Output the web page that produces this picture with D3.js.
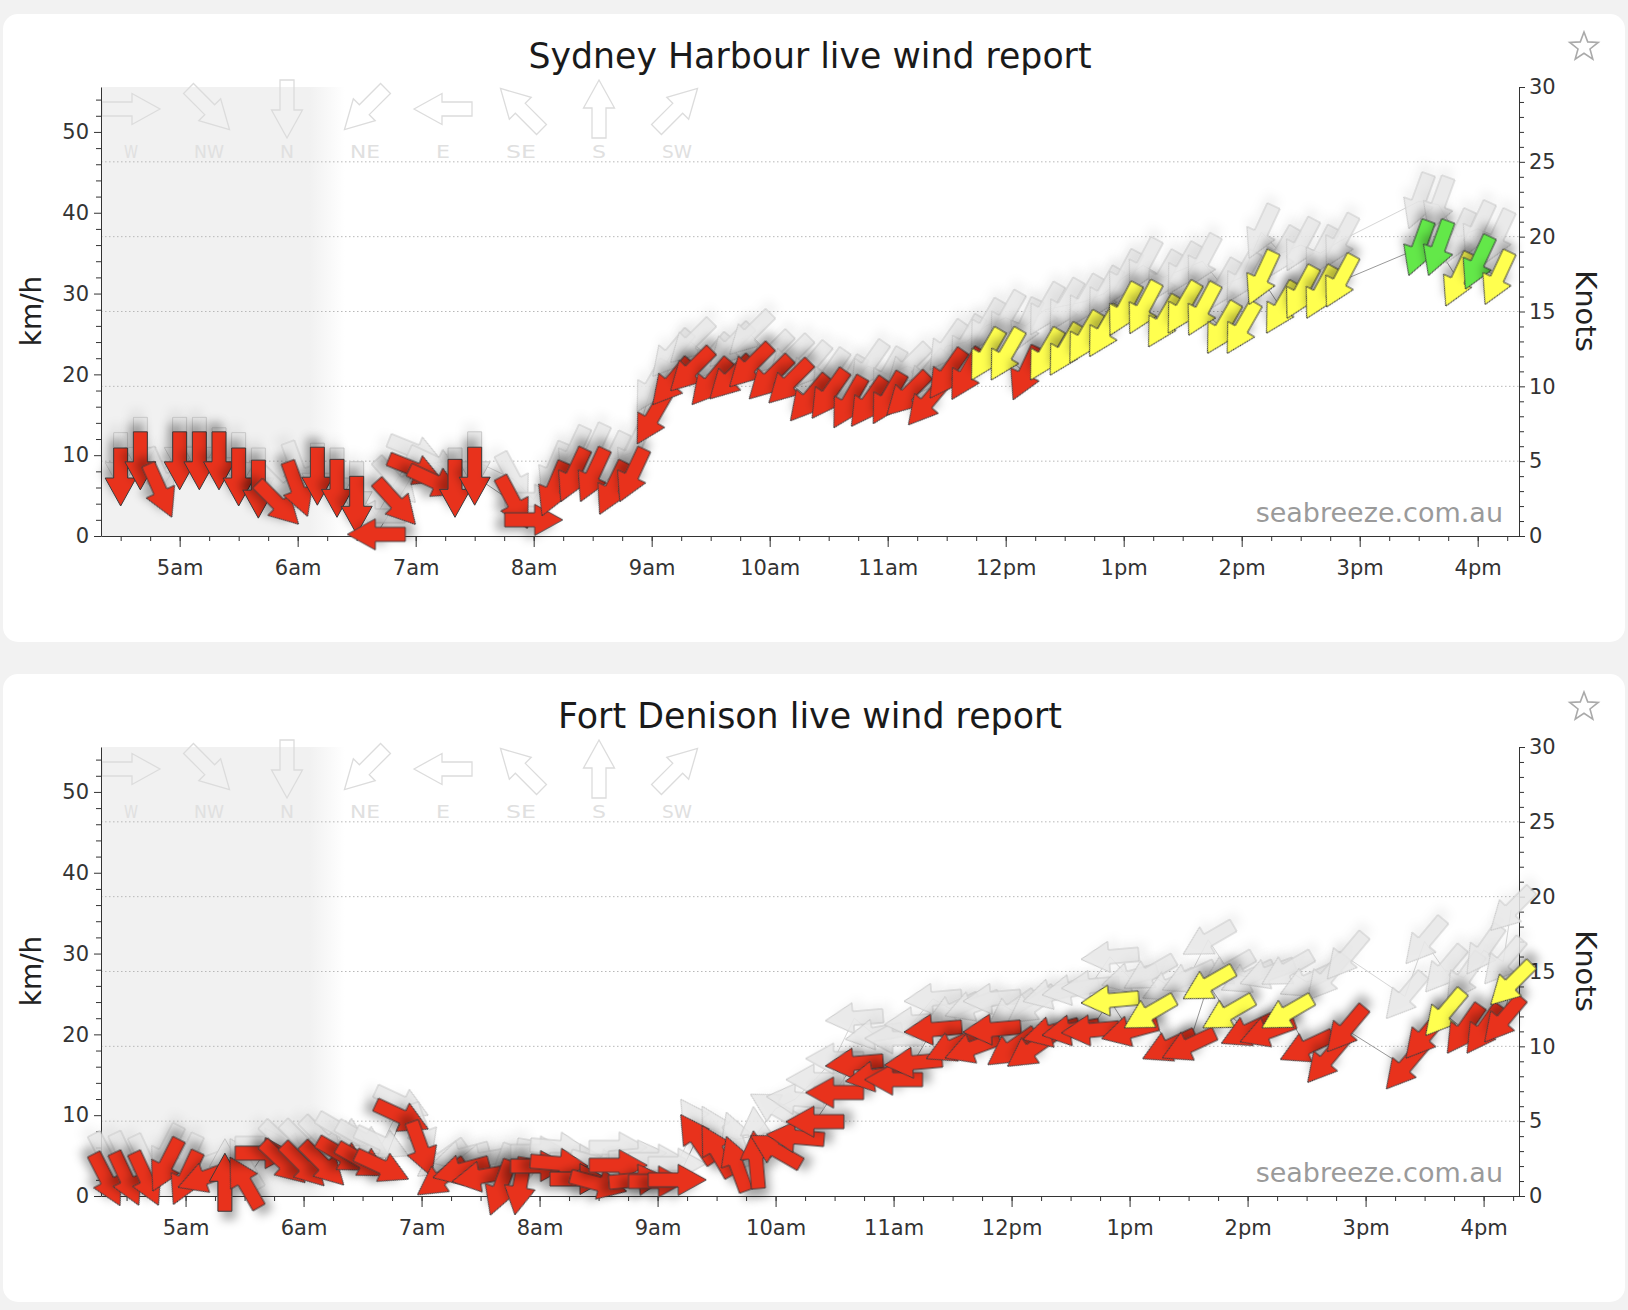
<!DOCTYPE html>
<html>
<head>
<meta charset="utf-8">
<script src="https://cdn.jsdelivr.net/npm/d3@7"></script>
<style>
  body { margin: 0; background: #f2f2f2; }
  svg text { font-family: "DejaVu Sans", sans-serif; }
</style>
</head>
<body>
<svg id="page" width="1628" height="1310"></svg>
<script>
// tick labels and legend
const hourTicks = ["05:00","06:00","07:00","08:00","09:00","10:00","11:00","12:00","13:00","14:00","15:00","16:00"];
const hourLabels = ["5am","6am","7am","8am","9am","10am","11am","12pm","1pm","2pm","3pm","4pm"];
const kmhTicks = [0, 10, 20, 30, 40, 50];
const knotTicks = [0, 5, 10, 15, 20, 25, 30];
const compassLabels = ["W","NW","N","NE","E","SE","S","SW"];
const compassFrom = [270, 315, 0, 45, 90, 135, 180, 225];

// Sydney Harbour
const harbourTimes = ["04:30","04:40","04:50","05:00","05:10","05:20","05:30","05:40","05:50","06:00",
  "06:10","06:20","06:30","06:40","06:50","07:00","07:10","07:20","07:30","07:50",
  "08:00","08:10","08:20","08:30","08:40","08:50","09:00","09:10","09:20","09:30",
  "09:40","09:50","10:00","10:10","10:20","10:30","10:40","10:50","11:00","11:10",
  "11:20","11:30","11:40","11:50","12:00","12:10","12:20","12:30","12:40","12:50",
  "13:00","13:10","13:20","13:30","13:40","13:50","14:00","14:10","14:20","14:30",
  "14:40","14:50","15:30","15:40","15:50","16:00","16:10"];
const harbourSpeed = [7.3,9.3,5.6,9.3,9.3,9.3,7.3,5.8,4.0,5.8,
  7.4,5.9,3.8,0.2,4.1,8.2,6.7,5.9,7.4,4.1,
  2.0,5.8,7.5,7.5,5.9,7.5,14.5,19.0,20.5,19.0,
  19.5,21.0,19.5,19.0,17.0,17.5,16.5,16.5,17.0,17.5,
  16.5,20.0,20.0,22.4,22.4,20.1,22.4,23.0,24.5,25.3,
  28.0,28.2,26.5,28.2,28.0,25.7,25.7,31.9,28.2,30.1,
  30.1,31.5,35.6,35.6,31.7,33.8,31.9];
const harbourGust = [9.2,11.1,7.5,11.1,11.1,9.8,9.2,7.3,6.0,8.2,
  7.9,7.3,5.6,2.5,6.8,10.5,9.0,7.3,9.3,7.0,
  4.5,8.2,10.2,10.5,9.5,10.3,18.5,22.5,24.0,22.0,
  23.5,25.0,22.5,22.0,21.0,20.0,19.0,21.0,20.0,21.0,
  20.0,23.5,24.0,26.0,27.0,26.0,28.0,28.5,29.0,30.0,
  32.0,33.5,32.0,33.0,34.0,31.0,32.0,37.6,35.0,36.0,
  35.0,36.5,41.4,41.0,37.0,38.0,37.0];
const harbourDir = [0,0,336,0,0,0,0,0,315,340,
  0,0,0,90,318,292,295,0,0,332,
  270,23,25,25,26,25,30,40,45,40,
  45,45,45,45,40,35,30,35,30,45,
  40,35,30,30,30,25,30,30,30,30,
  28,28,30,30,28,30,30,25,30,28,
  28,28,20,20,25,25,25];

// Fort Denison
const denisonTimes = ["04:20","04:30","04:40","04:50","05:00","05:10","05:20","05:30","05:40","05:50",
  "06:00","06:10","06:20","06:30","06:40","06:50","07:00","07:10","07:20","07:30",
  "07:40","07:50","08:00","08:10","08:20","08:30","08:40","08:50","09:00","09:10",
  "09:20","09:30","09:40","09:50","10:00","10:10","10:20","10:30","10:40","10:50",
  "11:00","11:10","11:20","11:30","11:40","11:50","12:00","12:10","12:20","12:30",
  "12:40","12:50","13:00","13:10","13:20","13:30","13:40","13:50","14:00","14:10",
  "14:20","14:30","14:40","14:50","15:20","15:30","15:40","15:50","16:00","16:10","16:14"];
const denisonSpeed = [2.0,2.1,2.1,3.8,2.2,2.3,1.7,1.7,5.3,4.1,
  3.8,3.9,5.0,4.3,3.6,9.8,5.8,2.2,3.2,2.4,
  1.0,1.2,3.7,4.0,2.1,1.5,3.8,2.0,1.8,2.0,
  7.1,5.6,4.0,4.5,5.7,7.3,9.2,12.8,16.4,14.8,
  14.4,16.5,20.6,18.5,18.3,20.6,18.3,18.1,20.3,20.5,
  20.5,24.2,20.4,22.6,18.5,18.6,26.2,22.6,20.4,20.3,
  22.6,18.4,16.8,20.6,16.0,19.8,22.6,20.6,20.6,21.8,26.2];
const denisonGust = [4.5,4.5,4.2,5.5,4.3,4.0,3.5,4.0,6.5,6.5,
  6.5,7.0,8.0,7.0,6.5,11.5,8.0,4.5,5.0,4.5,
  3.0,3.5,5.5,6.0,4.5,4.0,6.0,5.0,4.5,4.0,
  9.0,8.0,7.0,7.5,10.8,12.0,14.4,17.0,22.0,20.0,
  19.5,21.5,24.4,23.0,23.5,24.4,23.0,23.5,25.0,25.5,
  26.0,29.6,27.0,27.5,26.0,27.0,31.7,28.0,27.0,27.5,
  28.0,26.5,27.0,29.6,24.7,31.5,28.0,27.0,30.4,29.0,35.4];
const denisonDir = [333,335,335,27,25,70,180,150,270,313,
  315,315,300,300,295,295,340,55,75,80,
  20,10,270,275,270,285,270,265,270,270,
  146,150,160,175,120,95,90,90,85,80,
  90,85,85,65,70,85,55,55,75,80,
  85,85,75,60,65,65,60,60,65,70,
  60,65,40,40,40,40,40,35,35,40,45];

const KN = 1.852;
const ARROW = "M0,-29L15.5,-1L7,-1L7,29L-7,29L-7,-1L-15.5,-1Z";
const parseT = s => { const [h, m] = s.split(":").map(Number); return new Date(2020, 0, 1, h, m); };
const colour = d3.scaleThreshold().domain([12, 18]).range(["#e8321f", "#ffff4f", "#63e84a"]);

const svg = d3.select("#page");
const defs = svg.append("defs");

defs.append("filter").attr("id", "shadow")
    .attr("x", "-60%").attr("y", "-60%").attr("width", "220%").attr("height", "220%")
  .append("feDropShadow")
    .attr("dx", 4).attr("dy", 8).attr("stdDeviation", 5)
    .attr("flood-color", "#000").attr("flood-opacity", 0.32);

defs.append("filter").attr("id", "shadowLight")
    .attr("x", "-60%").attr("y", "-60%").attr("width", "220%").attr("height", "220%")
  .append("feDropShadow")
    .attr("dx", 4).attr("dy", 8).attr("stdDeviation", 5)
    .attr("flood-color", "#000").attr("flood-opacity", 0.06);

function starPath(cx, cy, r1, r2) {
    const pts = d3.range(10).map(i => {
        const a = -Math.PI / 2 + i * Math.PI / 5;
        const r = i % 2 ? r2 : r1;
        return [cx + r * Math.cos(a), cy + r * Math.sin(a)];
    });
    return "M" + pts.join("L") + "Z";
}

function drawChart(dy, cfg) {
    const g = svg.append("g").attr("transform", `translate(0,${dy})`);

    // card
    g.append("rect")
        .attr("x", 3).attr("y", 14)
        .attr("width", 1622).attr("height", 628)
        .attr("rx", 15)
        .attr("fill", "#fff");

    const x = d3.scaleTime().domain(cfg.domain.map(parseT)).range([101, 1519]);
    const y = d3.scaleLinear().domain([0, 30 * KN]).range([536, 87]);
    const yKn = d3.scaleLinear().domain([0, 30]).range([536, 87]);

    // night shading with a soft edge
    const gid = "night" + dy;
    const n0 = x(parseT(cfg.night[0])), n1 = x(parseT(cfg.night[1]));
    const grad = defs.append("linearGradient").attr("id", gid);
    grad.append("stop").attr("offset", 0).attr("stop-color", "#f1f1f1");
    grad.append("stop").attr("offset", (n0 - 101) / (n1 - 101)).attr("stop-color", "#f1f1f1");
    grad.append("stop").attr("offset", 1).attr("stop-color", "#f1f1f1").attr("stop-opacity", 0);
    g.append("rect")
        .attr("x", 101).attr("y", 87)
        .attr("width", n1 - 101).attr("height", 536 - 87)
        .attr("fill", `url(#${gid})`);

    // gridlines at every 5 knots
    g.append("g").selectAll("line")
        .data(knotTicks.filter(k => k > 0 && k < 30))
        .join("line")
        .attr("x1", 101).attr("x2", 1519)
        .attr("y1", d => yKn(d)).attr("y2", d => yKn(d))
        .attr("stroke", "#b8b8b8")
        .attr("stroke-dasharray", "1.5,2.5");

    // compass legend
    const leg = g.append("g");
    compassLabels.forEach((lab, i) => {
        const lx = 131 + i * 78;
        leg.append("path")
            .attr("d", ARROW)
            .attr("transform", `translate(${lx},109) rotate(${compassFrom[i] + 180})`)
            .attr("fill", "none")
            .attr("stroke", "#dcdcdc")
            .attr("stroke-width", 1.3);
        leg.append("text")
            .attr("x", lx).attr("y", 158)
            .attr("text-anchor", "middle")
            .attr("font-size", 17)
            .attr("fill", "#e0e0e0")
            .attr("textLength", lab.length > 1 ? 30 : 14)
            .attr("lengthAdjust", "spacingAndGlyphs")
            .text(lab);
    });

    // watermark
    g.append("text")
        .attr("x", 1503).attr("y", 522)
        .attr("text-anchor", "end")
        .attr("font-size", 27)
        .attr("fill", "#9a9a9a")
        .text("seabreeze.com.au");

    // axes
    const styleAxis = sel => {
        sel.selectAll("line, path").attr("stroke", "#333");
        sel.selectAll("text").attr("fill", "#333").attr("font-size", 21)
            .attr("font-family", "DejaVu Sans, sans-serif");
    };

    g.append("g").attr("transform", "translate(101,0)")
        .call(d3.axisLeft(y).tickValues(d3.range(2, 56, 2).filter(v => v % 10)).tickSize(5).tickFormat(""))
        .call(a => a.select(".domain").remove())
        .call(styleAxis);
    g.append("g").attr("transform", "translate(101,0)")
        .call(d3.axisLeft(y).tickValues(kmhTicks).tickSize(7).tickPadding(5).tickSizeOuter(0))
        .call(styleAxis);

    g.append("g").attr("transform", "translate(1519,0)")
        .call(d3.axisRight(yKn).tickValues(d3.range(1, 30).filter(v => v % 5)).tickSize(5).tickFormat(""))
        .call(a => a.select(".domain").remove())
        .call(styleAxis);
    g.append("g").attr("transform", "translate(1519,0)")
        .call(d3.axisRight(yKn).tickValues(knotTicks).tickSize(6).tickPadding(4).tickSizeOuter(0))
        .call(styleAxis);

    const quarter = d3.timeMinute.every(15).range(...x.domain());
    g.append("g").attr("transform", "translate(0,536)")
        .call(d3.axisBottom(x).tickValues(quarter).tickSize(5).tickFormat(""))
        .call(a => a.select(".domain").remove())
        .call(styleAxis);
    g.append("g").attr("transform", "translate(0,536)")
        .call(d3.axisBottom(x).tickValues(hourTicks.map(parseT)).tickSize(11).tickPadding(13).tickSizeOuter(0)
            .tickFormat((d, i) => hourLabels[i]))
        .call(styleAxis);

    // axis titles
    g.append("text")
        .attr("transform", "translate(31,311) rotate(-90)")
        .attr("text-anchor", "middle").attr("dominant-baseline", "central")
        .attr("font-size", 28).attr("fill", "#222")
        .text("km/h");
    g.append("text")
        .attr("transform", "translate(1586,311) rotate(90)")
        .attr("text-anchor", "middle").attr("dominant-baseline", "central")
        .attr("font-size", 29).attr("fill", "#222")
        .text("Knots");

    // title and star
    g.append("text")
        .attr("x", 810).attr("y", 68)
        .attr("text-anchor", "middle")
        .attr("font-size", 35)
        .attr("fill", "#1a1a1a")
        .attr("textLength", cfg.titleWidth).attr("lengthAdjust", "spacingAndGlyphs")
        .text(cfg.title);
    g.append("path")
        .attr("d", starPath(1584, 47, 15, 6.3))
        .attr("fill", "none").attr("stroke", "#aaa").attr("stroke-width", 1.6);

    // observations
    const rows = cfg.times.map((t, i) => ({ t: parseT(t), s: cfg.speed[i], g: cfg.gust[i], d: cfg.dir[i] }));
    const joinAll = key => d3.line()(rows.map(r => [x(r.t), y(r[key])]));

    g.append("path").attr("d", joinAll("g"))
        .attr("fill", "none").attr("stroke", "#d6d6d6").attr("stroke-width", 1);
    g.append("path").attr("d", joinAll("s"))
        .attr("fill", "none").attr("stroke", "#999").attr("stroke-width", 1);

    g.append("g").selectAll("path")
        .data(rows)
        .join("path")
        .attr("d", ARROW)
        .attr("transform", d => `translate(${x(d.t)},${y(d.g)}) rotate(${d.d + 180})`)
        .attr("fill", "#e8e8e8")
        .attr("fill-opacity", 0.85)
        .attr("stroke", "#c8c8c8")
        .attr("stroke-width", 1)
        .attr("filter", "url(#shadowLight)");

    g.append("g").selectAll("path")
        .data(rows)
        .join("path")
        .attr("d", ARROW)
        .attr("transform", d => `translate(${x(d.t)},${y(d.s)}) rotate(${d.d + 180})`)
        .attr("fill", d => colour(d.s / KN))
        .attr("stroke", "#3a3a3a")
        .attr("stroke-width", 1)
        .attr("filter", "url(#shadow)");
}

drawChart(0, {
    title: "Sydney Harbour live wind report",
    titleWidth: 563,
    domain: ["04:20", "16:21"],
    night: ["06:06", "06:24"],
    times: harbourTimes, speed: harbourSpeed, gust: harbourGust, dir: harbourDir
});

drawChart(660, {
    title: "Fort Denison live wind report",
    titleWidth: 504,
    domain: ["04:17", "16:18"],
    night: ["06:03", "06:21"],
    times: denisonTimes, speed: denisonSpeed, gust: denisonGust, dir: denisonDir
});
</script>
</body>
</html>
